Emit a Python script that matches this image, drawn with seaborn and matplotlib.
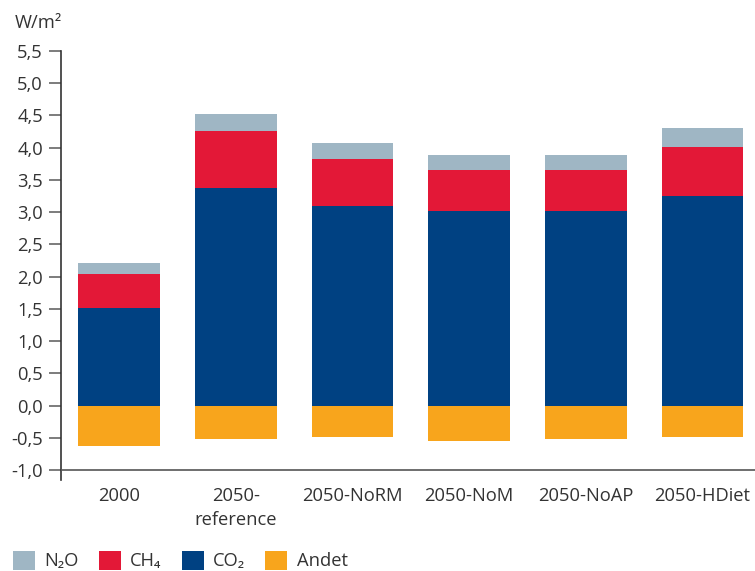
import matplotlib
matplotlib.use("Agg")
import matplotlib.pyplot as plt
import seaborn as sns
import pandas as pd
import numpy as np
from matplotlib.patches import Patch

categories = ["2000", "2050-\nreference", "2050-NoRM", "2050-NoM", "2050-NoAP", "2050-HDiet"]
co2 = [1.51, 3.37, 3.09, 3.02, 3.02, 3.25]
ch4 = [0.53, 0.89, 0.73, 0.63, 0.63, 0.76]
n2o = [0.17, 0.27, 0.25, 0.23, 0.23, 0.29]
andet = [-0.63, -0.52, -0.49, -0.55, -0.52, -0.49]
yticks = [-1.0, -0.5, 0.0, 0.5, 1.0, 1.5, 2.0, 2.5, 3.0, 3.5, 4.0, 4.5, 5.0, 5.5]
ytick_labels = ["-1,0", "-0,5", "0,0", "0,5", "1,0", "1,5", "2,0", "2,5", "3,0", "3,5", "4,0", "4,5", "5,0", "5,5"]
series_names = ["N\u2082O", "CH\u2084", "CO\u2082", "Andet"]
colors = {"N2O": "#9fb6c4", "CH4": "#e31837", "CO2": "#004182", "Andet": "#f8a51c"}

sns.set_style("white")
plt.rcParams["font.family"] = ["Open Sans", "DejaVu Sans"]
text_color = "#333333"
fs = 13.2

df = pd.DataFrame({"cat": categories, "co2": co2, "ch4": ch4, "n2o": n2o, "andet": andet})
df["co2_ch4"] = df["co2"] + df["ch4"]

fig = plt.figure(figsize=(7.55, 5.71), dpi=100)
ax = fig.add_axes([61 / 755, 0.160, 1 - 61 / 755, 0.7507])

w = 0.70
sns.barplot(data=df, x="cat", y="co2", color=colors["CO2"], width=w, saturation=1, ax=ax)
sns.barplot(data=df, x="cat", y="ch4", bottom=df["co2"].values, color=colors["CH4"], width=w, saturation=1, ax=ax)
sns.barplot(data=df, x="cat", y="n2o", bottom=df["co2_ch4"].values, color=colors["N2O"], width=w, saturation=1, ax=ax)
sns.barplot(data=df, x="cat", y="andet", color=colors["Andet"], width=w, saturation=1, ax=ax)
for p in ax.patches:
    p.set_linewidth(0)

ax.set_xlim(-0.5, 5.45)
ax.set_ylim(-1.15, 5.5)
ax.set_yticks(yticks)
ax.set_yticklabels(ytick_labels)
ax.set_xlabel("")
ax.set_ylabel("")

for s in ["top", "right", "bottom"]:
    ax.spines[s].set_visible(False)
ax.spines["left"].set_color("#333333")
ax.spines["left"].set_linewidth(1.2)
ax.axhline(-1.0, color="#555555", lw=1.2, zorder=5)

ax.tick_params(axis="y", direction="out", length=9, width=1.2, color="#666666",
               labelsize=fs, labelcolor=text_color, pad=4, left=True)
ax.tick_params(axis="x", length=0, labelsize=fs, labelcolor=text_color, pad=5)
for t in ax.get_xticklabels():
    t.set_linespacing(1.45)

fig.text(15 / 755, 1 - 23 / 571, "W/m\u00b2", fontsize=fs, color=text_color, va="center", ha="left")

handles = [Patch(facecolor=colors[k], edgecolor="none") for k in ["N2O", "CH4", "CO2", "Andet"]]
fig.legend(handles, series_names, loc="lower left", bbox_to_anchor=(-0.004, -0.028), ncol=4,
           frameon=False, fontsize=fs, handlelength=1.2, handleheight=1.2, handletextpad=0.5,
           columnspacing=1.1, labelcolor=text_color)

fig.savefig("out.png", dpi=100)
